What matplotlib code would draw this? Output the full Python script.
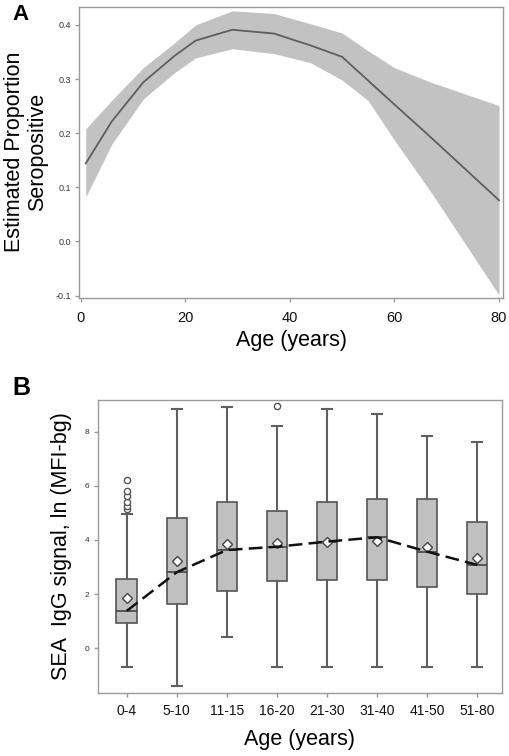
import numpy as np
import matplotlib
matplotlib.use("Agg")
import matplotlib.pyplot as plt

plt.rcParams["font.family"] = ["Liberation Sans", "DejaVu Sans"]

# Panel A: estimated proportion seropositive by age
ages = [1, 6, 12, 18, 22, 29, 37, 44, 50, 55, 60, 67, 80]
est = [0.144, 0.222, 0.294, 0.343, 0.371, 0.391, 0.384, 0.362, 0.341, 0.297, 0.253, 0.192, 0.076]
upper = [0.208, 0.261, 0.321, 0.367, 0.400, 0.426, 0.421, 0.402, 0.385, 0.352, 0.321, 0.294, 0.251]
lower = [0.082, 0.180, 0.263, 0.312, 0.339, 0.356, 0.347, 0.330, 0.298, 0.260, 0.187, 0.091, -0.099]

# Panel B: SEA IgG signal by age group
groups = ["0-4", "5-10", "11-15", "16-20", "21-30", "31-40", "41-50", "51-80"]
whislo = [-0.68, -1.39, 0.41, -0.68, -0.68, -0.68, -0.68, -0.68]
q1 = [0.92, 1.62, 2.13, 2.50, 2.52, 2.52, 2.25, 2.00]
med = [1.38, 2.81, 3.63, 3.75, 3.94, 4.10, 3.57, 3.08]
q3 = [2.55, 4.82, 5.42, 5.07, 5.39, 5.50, 5.50, 4.68]
whishi = [4.96, 8.82, 8.90, 8.21, 8.82, 8.64, 7.84, 7.63]
means = [1.86, 3.22, 3.84, 3.90, 3.93, 3.98, 3.75, 3.32]
fliers = [[5.15, 5.24, 5.42, 5.64, 5.80, 6.20], [], [], [8.96], [], [], [], []]

W, H = 510, 756
fig = plt.figure(figsize=(W / 100, H / 100), dpi=100)

SPINE = "#9a9a9a"
TICKCOL = "#333333"


def style_axes(ax):
    for s in ax.spines.values():
        s.set_color(SPINE)
        s.set_linewidth(1.0)
    ax.tick_params(axis="both", direction="out", length=3, color=SPINE, width=1)


# ---- Panel A ----
axA = fig.add_axes([79 / W, (H - 297.7) / H, (503 - 79) / W, (297.7 - 6.5) / H])
axA.fill_between(ages, lower, upper, color="#c2c2c2", linewidth=0)
axA.plot(ages, est, color="#5e5e5e", linewidth=1.3)
axA.set_xlim(-0.29, 80.76)
axA.set_ylim(-0.104, 0.434)
axA.set_xticks([0, 20, 40, 60, 80])
axA.set_yticks([-0.1, 0.0, 0.1, 0.2, 0.3, 0.4])
axA.set_yticklabels(["-0.1", "0.0", "0.1", "0.2", "0.3", "0.4"])
style_axes(axA)
axA.tick_params(axis="y", labelsize=6.5, labelcolor=TICKCOL, pad=3)
axA.tick_params(axis="x", labelsize=10.5, labelcolor="#111111", pad=6.5)
axA.set_xlabel("Age (years)", fontsize=15.5, labelpad=4)
axA.set_ylabel("Estimated Proportion\nSeropositive", fontsize=15.5, labelpad=5,
               linespacing=1.15)
fig.text(12 / W, 1 - 14 / H, "A", fontsize=16, fontweight="bold", va="center", ha="left")

# ---- Panel B ----
axB = fig.add_axes([97.7 / W, (H - 692.7) / H, (501.7 - 97.7) / W, (692.7 - 400) / H])
stats = []
for i, g in enumerate(groups):
    stats.append({
        "label": g, "whislo": whislo[i], "q1": q1[i], "med": med[i],
        "q3": q3[i], "whishi": whishi[i], "mean": means[i], "fliers": fliers[i],
    })
pos = np.arange(1, len(groups) + 1)
axB.bxp(
    stats, positions=pos, widths=0.41, patch_artist=True, showmeans=True,
    boxprops=dict(facecolor="#c0c0c0", edgecolor="#555555", linewidth=1.2),
    medianprops=dict(color="#444444", linewidth=1.2),
    whiskerprops=dict(color="#606060", linewidth=1.5),
    capprops=dict(color="#606060", linewidth=1.5),
    capwidths=0.2,
    meanprops=dict(marker="D", markerfacecolor="white", markeredgecolor="#444444",
                   markersize=5.5, markeredgewidth=1.0),
    flierprops=dict(marker="o", markerfacecolor="white", markeredgecolor="#555555",
                    markersize=4.5, markeredgewidth=1.0),
)
axB.plot(pos, med, color="#111111", linestyle=(0, (5.5, 2.5)), linewidth=1.8, zorder=5)
axB.set_xlim(0.42, 8.49)
axB.set_ylim(-1.64, 9.17)
axB.set_yticks([0, 2, 4, 6, 8])
axB.set_xticks(pos)
axB.set_xticklabels(groups)
style_axes(axB)
axB.tick_params(axis="y", labelsize=6, labelcolor=TICKCOL, pad=3)
axB.tick_params(axis="x", labelsize=10, labelcolor="#111111", pad=5)
axB.set_xlabel("Age (years)", fontsize=15.5, labelpad=8)
axB.set_ylabel("SEA  IgG signal, ln (MFI-bg)", fontsize=15.5, labelpad=9)
fig.text(12 / W, 1 - 388 / H, "B", fontsize=18, fontweight="bold", va="center", ha="left")

fig.savefig("out.png", dpi=100)
